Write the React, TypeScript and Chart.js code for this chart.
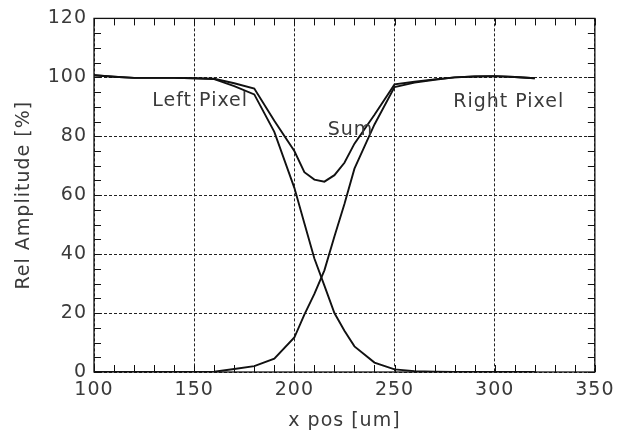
import React, { useEffect, useRef } from 'react';
import { Chart, registerables } from 'chart.js';

Chart.register(...registerables);

// x positions [um]
const xPos = [100, 110, 120, 130, 140, 150, 160, 170, 180, 190, 200, 205, 210, 215, 220, 225, 230, 240, 250, 260, 270, 280, 290, 300, 310, 320];
// Left pixel relative amplitude [%]
const leftPixel = [100.7, 100.2, 99.8, 99.8, 99.8, 99.7, 99.4, 97.0, 94.2, 81.5, 62.5, 50.5, 38.5, 29.3, 20.0, 14.0, 8.7, 3.2, 0.9, 0.3, 0.1, 0, 0, 0, 0, 0];
// Right pixel relative amplitude [%]
const rightPixel = [0, 0, 0, 0, 0, 0, 0.1, 1.0, 2.0, 4.5, 11.7, 19.5, 26.5, 34.5, 46.0, 57.0, 69.0, 84.0, 96.7, 98.2, 99.2, 100.0, 100.3, 100.4, 100.1, 99.7];
// Sum of both pixels [%]
const sumSignal = [100.7, 100.2, 99.8, 99.8, 99.8, 99.7, 99.5, 98.0, 96.2, 85.3, 75.0, 67.8, 65.3, 64.6, 66.8, 71.0, 77.5, 87.3, 97.6, 98.5, 99.3, 100.0, 100.3, 100.4, 100.1, 99.7];

const labelTexts = ['Left Pixel', 'Sum', 'Right Pixel'];
const labelX = [153, 228, 307];
const labelY = [92, 82, 91.5];

const FONT = "'DejaVu Sans', sans-serif";
const TEXT = '#3a3a3a';
const FS = 19;

const framePlugin = {
  id: 'frameTicks',
  beforeDraw(chart: any) {
    chart.ctx.letterSpacing = '1px';
  },
  afterDatasetsDraw(chart: any) {
    const { ctx, chartArea, scales } = chart;
    const { left, right, top, bottom } = chartArea;
    const xs = scales.x;
    const ys = scales.y;
    ctx.save();
    ctx.strokeStyle = '#111';
    ctx.lineWidth = 1.3;
    ctx.setLineDash([]);
    ctx.strokeRect(left, top, right - left, bottom - top);
    const tl = 7;
    ctx.beginPath();
    for (let v = xs.min; v <= xs.max; v += 10) {
      const px = Math.round(xs.getPixelForValue(v)) + 0.5;
      ctx.moveTo(px, bottom);
      ctx.lineTo(px, bottom - tl);
      ctx.moveTo(px, top);
      ctx.lineTo(px, top + tl);
    }
    for (let v = ys.min; v <= ys.max; v += 5) {
      const py = Math.round(ys.getPixelForValue(v)) + 0.5;
      ctx.moveTo(left, py);
      ctx.lineTo(left + tl, py);
      ctx.moveTo(right, py);
      ctx.lineTo(right - tl, py);
    }
    ctx.lineWidth = 1;
    ctx.stroke();
    ctx.fillStyle = TEXT;
    ctx.font = `normal ${FS}px ${FONT}`;
    ctx.letterSpacing = '1px';
    ctx.textAlign = 'center';
    ctx.textBaseline = 'middle';
    labelTexts.forEach((t, i) => {
      ctx.fillText(t, xs.getPixelForValue(labelX[i]), ys.getPixelForValue(labelY[i]));
    });
    ctx.restore();
  },
};

export default function App() {
  const ref = useRef<HTMLCanvasElement>(null);
  useEffect(() => {
    document.body.style.margin = '0';
    const mk = (ys: number[]) => xPos.map((x, i) => ({ x, y: ys[i] }));
    const ds = (label: string, ys: number[]) => ({
      label,
      data: mk(ys),
      borderColor: '#111',
      borderWidth: 1.9,
      pointRadius: 0,
      tension: 0,
      fill: false,
    });
    const font = { family: FONT, size: FS, weight: 'normal' };
    const chart = new Chart(ref.current as HTMLCanvasElement, {
      type: 'line',
      data: {
        datasets: [ds('Left Pixel', leftPixel), ds('Right Pixel', rightPixel), ds('Sum', sumSignal)],
      },
      options: {
        animation: false,
        responsive: false,
        devicePixelRatio: 1,
        layout: { padding: { left: 0, right: 20, top: 12, bottom: 0 } },
        plugins: { legend: { display: false }, tooltip: { enabled: false } },
        scales: {
          x: {
            type: 'linear',
            min: 100,
            max: 350,
            afterFit: (s: any) => { s.height = 60; },
            ticks: { stepSize: 50, padding: 7, color: TEXT, font },
            grid: { color: '#222', lineWidth: 1, drawTicks: false },
            border: { display: false, dash: [3, 2] },
            title: { display: true, text: 'x pos [um]', color: TEXT, font, padding: { top: 0, bottom: 0 } },
          },
          y: {
            type: 'linear',
            min: 0,
            max: 120,
            afterFit: (s: any) => { s.width = 94; },
            ticks: { stepSize: 20, padding: 7, color: TEXT, font },
            grid: { color: '#222', lineWidth: 1, drawTicks: false },
            border: { display: false, dash: [3, 2] },
            title: { display: true, text: 'Rel Amplitude [%]', color: TEXT, font, padding: { top: 13, bottom: 0 } },
          },
        },
      },
      plugins: [framePlugin],
    } as any);
    return () => chart.destroy();
  }, []);
  return (
    <div style={{ width: 620, height: 432 }}>
      <canvas ref={ref} width={620} height={432} />
    </div>
  );
}
